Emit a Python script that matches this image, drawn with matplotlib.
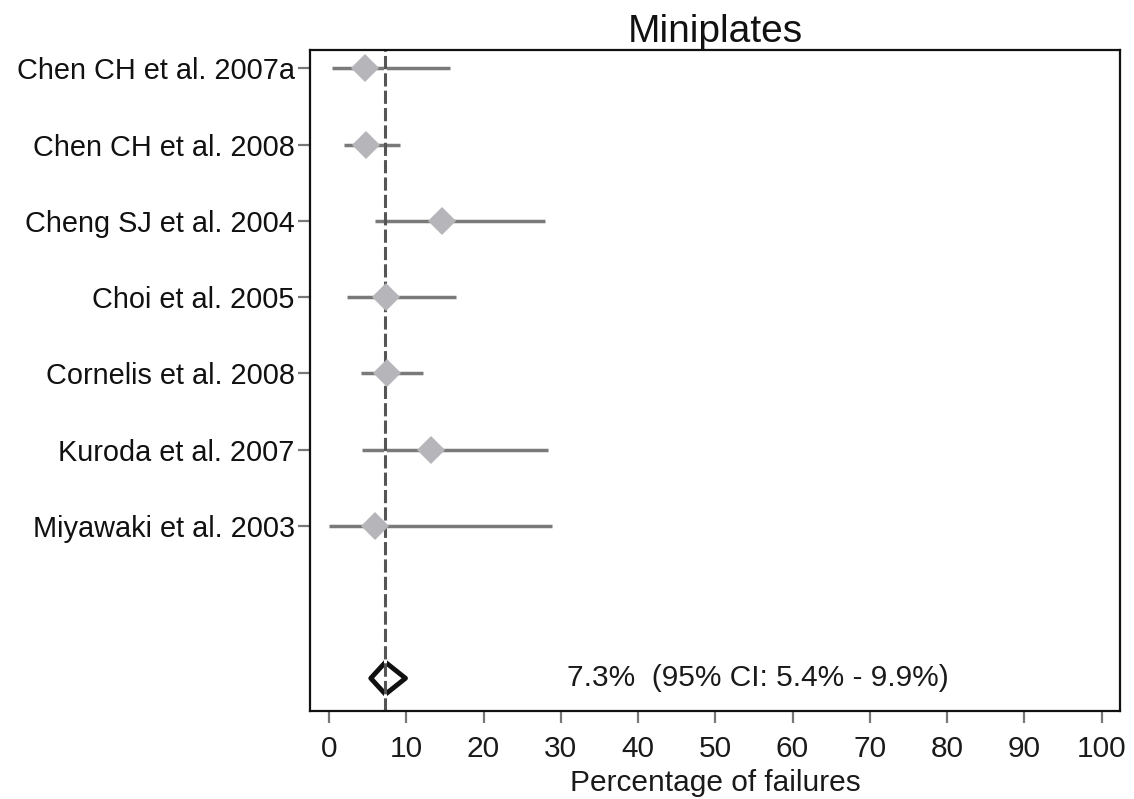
import numpy as np
import matplotlib
matplotlib.use('Agg')
from matplotlib import pyplot as plt
from matplotlib.patches import Polygon

studies = ['Chen CH et al. 2007a', 'Chen CH et al. 2008', 'Cheng SJ et al. 2004',
           'Choi et al. 2005', 'Cornelis et al. 2008', 'Kuroda et al. 2007',
           'Miyawaki et al. 2003']
estimates = [4.7, 4.8, 14.6, 7.4, 7.5, 13.2, 6.0]
ci_low = [0.4, 1.9, 6.0, 2.3, 4.2, 4.3, 0.0]
ci_high = [15.7, 9.2, 28.0, 16.4, 12.2, 28.3, 28.9]

pooled = 7.3
pooled_low = 5.4
pooled_high = 9.9
pooled_text = '7.3%  (95% CI: 5.4% - 9.9%)'
xticks = list(range(0, 101, 10))


def main():
    plt.rcParams['font.family'] = ['Liberation Sans', 'DejaVu Sans']
    plt.rcParams['lines.scale_dashes'] = False

    fig = plt.figure(figsize=(11.34, 7.99), dpi=100)
    ax = fig.add_axes([0.2734, 0.1101, 0.7143, 0.8273])

    rows = np.arange(1, len(studies) + 1)
    summary_row = len(studies) + 2

    ax.hlines(rows, ci_low, ci_high, color='#7a7a7a', linewidth=2.5, zorder=1)
    ax.axvline(pooled, color='#555555', linewidth=2.2, dashes=(9.5, 3.0),
               gapcolor='white', zorder=2)
    ax.plot(estimates, rows, linestyle='none', marker='D', markersize=14.5,
            color='#b5b5ba', markeredgewidth=0, zorder=3)

    h = 0.21
    diamond = Polygon([(pooled_low, summary_row), (pooled, summary_row - h),
                       (pooled_high, summary_row), (pooled, summary_row + h)],
                      closed=True, fill=False, edgecolor='#111111',
                      linewidth=3.5, joinstyle='round', zorder=1.5)
    ax.add_patch(diamond)
    ax.text(30.8, summary_row, pooled_text, fontsize=21.5, color='#1a1a1a',
            ha='left', va='center')

    ax.set_xlim(-2.46, 102.4)
    ax.set_ylim(summary_row + 0.43, 0.76)
    ax.set_xticks(xticks)
    ax.set_yticks(rows)
    ax.set_yticklabels(studies)
    ax.tick_params(axis='both', direction='out', length=8.5, width=1.6,
                   color='#777777', labelsize=21.5, labelcolor='#1a1a1a')
    ax.tick_params(axis='x', pad=9)
    ax.tick_params(axis='y', pad=2, length=9, labelsize=20.8, labelcolor='#111111')
    for spine in ax.spines.values():
        spine.set_linewidth(1.6)
        spine.set_color('#111111')

    ax.set_xlabel('Percentage of failures', fontsize=21.5, color='#1a1a1a', labelpad=4)
    ax.set_title('Miniplates', fontsize=28, color='#111111', pad=3)

    fig.savefig('out.png', dpi=100)


if __name__ == '__main__':
    main()
